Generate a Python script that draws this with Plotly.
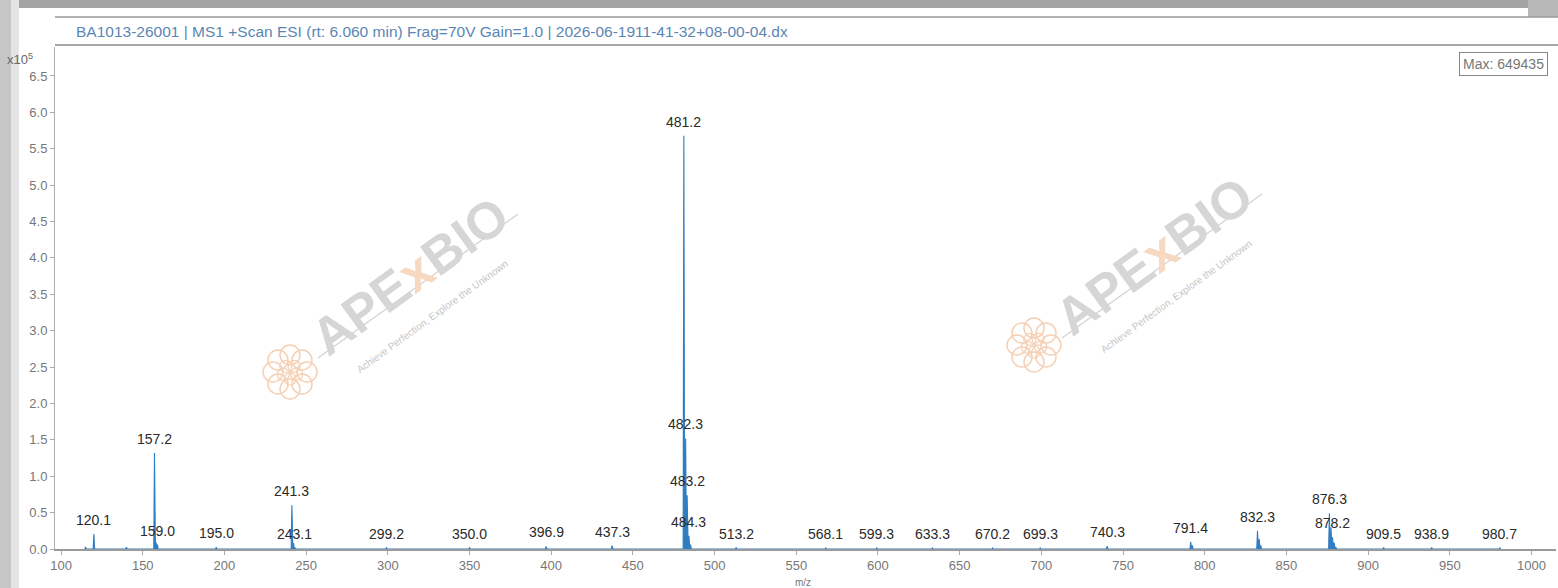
import math
import plotly.graph_objects as go

# ---------------- data ----------------
title_text = "BA1013-26001 | MS1 +Scan ESI (rt: 6.060 min) Frag=70V Gain=1.0 | 2026-06-1911-41-32+08-00-04.dx"
max_text = "Max: 649435"

# labelled peaks (m/z, intensity in counts)
peak_mz = [120.1, 157.2, 159.0, 195.0, 241.3, 243.1, 299.2, 350.0, 396.9, 437.3,
           481.2, 482.3, 483.2, 484.3, 513.2, 568.1, 599.3, 633.3, 670.2, 699.3,
           740.3, 791.4, 832.3, 876.3, 878.2, 909.5, 938.9, 980.7]
peak_int = [20500, 132000, 6000, 2500, 60000, 2000, 2000, 2000, 3500, 4500,
            568000, 152000, 74000, 18000, 2000, 1500, 1500, 1500, 1500, 1500,
            4000, 10000, 25000, 49000, 16000, 2000, 2000, 1500]

# smaller unlabelled signals (isotopes / minor ions)
minor_mz = [115.0, 140.0, 158.2, 242.3, 485.3, 792.4, 833.3, 834.3, 877.3, 879.2, 880.2]
minor_int = [3000, 2500, 9000, 8000, 6000, 5000, 14000, 5000, 30000, 9000, 3000]

y_ticks = [0, 50000, 100000, 150000, 200000, 250000, 300000, 350000, 400000,
           450000, 500000, 550000, 600000, 650000]
y_tick_labels = ["0.0", "0.5", "1.0", "1.5", "2.0", "2.5", "3.0", "3.5", "4.0",
                 "4.5", "5.0", "5.5", "6.0", "6.5"]
x_ticks = list(range(100, 1001, 50))

# ---------------- geometry helpers ----------------
W, H = 1558, 588
L, R, T, B = 55, 2, 47, 39
PW, PH = W - L - R, H - T - B


def px(x):
    return (x - L) / PW


def py(y):
    return (H - B - y) / PH


# ---------------- build profile trace ----------------
all_pk = sorted(zip(peak_mz + minor_mz, peak_int + minor_int))
hw = 0.45
xs, ys = [], []
for m, v in all_pk:
    xs += [m - hw, m, m + hw]
    ys += [0, v, 0]

fig = go.Figure()
fig.add_trace(go.Scatter(
    x=xs, y=ys, mode="lines", fill="tozeroy",
    line=dict(color="#2f7cc0", width=1.1),
    fillcolor="#2f7cc0", hoverinfo="skip", showlegend=False))

font_main = "Liberation Sans Narrow, Liberation Sans, Arial, sans-serif"

annotations = []
shapes = []


# ---------------- watermark (drawn first, beneath labels) ----------------
def watermark(cx, cy, lx, ly):
    ang = -36
    annotations.append(dict(
        x=px(cx), y=py(cy), xref="paper", yref="paper", showarrow=False,
        xanchor="center", yanchor="middle",
        text="<b>APE<span style='color:#f7d8c0'>x</span>BIO</b>", textangle=ang,
        font=dict(family="Liberation Sans, Arial", size=52, color="#d6d6d6")))
    annotations.append(dict(
        x=px(cx + 22), y=py(cy + 40), xref="paper", yref="paper", showarrow=False,
        xanchor="center", yanchor="middle",
        text="Achieve Perfection, Explore the Unknown", textangle=ang,
        font=dict(family="Liberation Sans, Arial", size=10, color="#c6c6c6")))
    shapes.append(dict(type="line", xref="paper", yref="paper",
                       x0=px(cx - 92), y0=py(cy + 82), x1=px(cx + 108), y1=py(cy - 62),
                       line=dict(color="#d2d2d2", width=1.2)))
    r0 = 10
    for k in range(8):
        a = k * math.pi / 4
        ox, oy = lx + 17 * math.cos(a), ly + 17 * math.sin(a)
        shapes.append(dict(type="circle", xref="paper", yref="paper",
                           x0=px(ox - r0), x1=px(ox + r0), y0=py(oy - r0), y1=py(oy + r0),
                           line=dict(color="#f5d0b4", width=1.5)))
    for k in range(5):
        a = k * 2 * math.pi / 5 + 0.3
        ox, oy = lx + 7 * math.cos(a), ly + 7 * math.sin(a)
        shapes.append(dict(type="circle", xref="paper", yref="paper",
                           x0=px(ox - 6), x1=px(ox + 6), y0=py(oy - 6), y1=py(oy + 6),
                           line=dict(color="#f5d0b4", width=1.2)))


watermark(410, 276, 290, 372)
watermark(1154, 256, 1034, 345)

for m, v in zip(peak_mz, peak_int):
    annotations.append(dict(
        x=m, y=v, xref="x", yref="y", text=f"{m:.1f}", showarrow=False,
        xanchor="center", yanchor="bottom", yshift=4,
        font=dict(family=font_main, size=14, color="#2a2a2a")))

annotations += [
    dict(x=px(5), y=py(59), xref="paper", yref="paper", xanchor="left", yanchor="middle",
         text="x10<sup>5</sup>", showarrow=False,
         font=dict(family=font_main, size=13, color="#666")),
    dict(x=px(803), y=py(582), xref="paper", yref="paper", xanchor="center", yanchor="middle",
         text="m/z", showarrow=False,
         font=dict(family=font_main, size=10, color="#777")),
    dict(x=px(74), y=py(31), xref="paper", yref="paper", xanchor="left", yanchor="middle",
         text=title_text, showarrow=False,
         font=dict(family=font_main, size=15.5, color="#5b86b3")),
    dict(x=px(1503), y=py(64), xref="paper", yref="paper", xanchor="center", yanchor="middle",
         text=max_text, showarrow=False, bordercolor="#888", borderwidth=1,
         borderpad=3, bgcolor="white",
         font=dict(family=font_main, size=14, color="#777")),
]

shapes += [
    dict(type="rect", xref="paper", yref="paper", x0=px(0), x1=px(W), y0=py(0), y1=py(8),
         fillcolor="#a4a4a4", line_width=0, layer="above"),
    dict(type="rect", xref="paper", yref="paper", x0=px(1528), x1=px(W), y0=py(0), y1=py(17),
         fillcolor="#b8b8b8", line_width=0, layer="above"),
    dict(type="rect", xref="paper", yref="paper", x0=px(0), x1=px(11), y0=py(0), y1=py(H),
         fillcolor="#c6c6c6", line_width=0, layer="above"),
    dict(type="rect", xref="paper", yref="paper", x0=px(11), x1=px(19), y0=py(0), y1=py(H),
         fillcolor="#e4e4e4", line_width=0, layer="above"),
    dict(type="line", xref="paper", yref="paper", x0=px(55), x1=px(W), y0=py(17), y1=py(17),
         line=dict(color="#9a9a9a", width=1.5)),
    dict(type="line", xref="paper", yref="paper", x0=px(55), x1=px(W), y0=py(45), y1=py(45),
         line=dict(color="#8a8a8a", width=1.5)),
]

fig.update_layout(
    width=W, height=H,
    margin=dict(l=L, r=R, t=T, b=B, pad=0),
    paper_bgcolor="white", plot_bgcolor="white",
    xaxis=dict(range=[96.3, 1015.0], tickvals=x_ticks, showgrid=False, zeroline=False,
               showline=True, linecolor="#9a9a9a", linewidth=1.5,
               ticks="outside", ticklen=4, tickcolor="#aaa",
               tickfont=dict(family=font_main, size=13, color="#777")),
    yaxis=dict(range=[0, 689800], tickvals=y_ticks, ticktext=y_tick_labels,
               showgrid=False, zeroline=False, showline=True, linecolor="#b0b0b0",
               linewidth=1, ticks="outside", ticklen=4, tickcolor="#aaa",
               tickfont=dict(family=font_main, size=13, color="#777")),
    annotations=annotations, shapes=shapes,
)

fig.write_html("out.html", config={"displayModeBar": False},
               post_script="document.body.style.margin='0';")
